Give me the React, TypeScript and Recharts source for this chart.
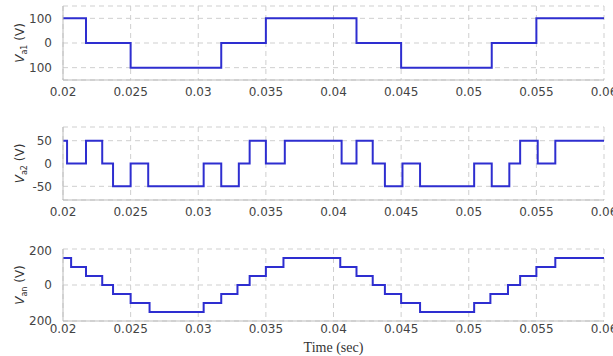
import { LineChart, Line, XAxis, YAxis, CartesianGrid } from 'recharts';

// step waveforms, values change at each time listed
const va1Times = [0.02, 0.0217, 0.025, 0.0317, 0.035, 0.0417, 0.045, 0.0517, 0.055, 0.06];
const va1Values = [100, 0, -100, 0, 100, 0, -100, 0, 100, 100];

const va2Times = [0.02, 0.0203, 0.0217, 0.0229, 0.0237, 0.025, 0.0263, 0.0304, 0.0317, 0.033, 0.0338, 0.035, 0.0364,
  0.0406, 0.0417, 0.0429, 0.0438, 0.0451, 0.0464, 0.0504, 0.0517, 0.053, 0.0538, 0.0551, 0.0564, 0.06];
const va2Values = [50, 0, 50, 0, -50, 0, -50, 0, -50, 0, 50, 0, 50, 0, 50, 0, -50, 0, -50, 0, -50, 0, 50, 0, 50, 50];

const vanTimes = [0.02, 0.0206, 0.0217, 0.0229, 0.0237, 0.025, 0.0264, 0.0304, 0.0317, 0.0329, 0.0338, 0.035, 0.0363,
  0.0405, 0.0417, 0.0429, 0.0438, 0.045, 0.0464, 0.0504, 0.0516, 0.0529, 0.0538, 0.055, 0.0564, 0.06];
const vanValues = [150, 100, 50, 0, -50, -100, -150, -100, -50, 0, 50, 100, 150, 100, 50, 0, -50, -100, -150, -100, -50, 0, 50, 100, 150, 150];

const timeTicks = [0.02, 0.025, 0.03, 0.035, 0.04, 0.045, 0.05, 0.055, 0.06];
const va1Ticks = [-100, 0, 100];
const va2Ticks = [-50, 0, 50];
const vanTicks = [-200, 0, 200];

const FONT = 'DejaVu Sans, sans-serif';
const BORDER = '#bbbbbb';
const LINE = '#2e2ed0';

type PanelProps = {
  times: number[];
  values: number[];
  domain: [number, number];
  ticks: number[];
  sub: string;
  top: number;
  height: number;
  plotHeight: number;
  absTicks?: boolean;
  xTickMargin: number;
  showTime?: boolean;
};

function Panel({ times, values, domain, ticks, sub, top, height, plotHeight, absTicks, xTickMargin, showTime }: PanelProps) {
  const data = times.map((t, i) => ({ t, v: values[i] }));
  const bottom = height - 6 - plotHeight;

  const yLabel = (props: any) => {
    const vb = props.viewBox || {};
    const cy = (vb.y ?? 0) + (vb.height ?? 0) / 2;
    return (
      <text
        x={0}
        y={0}
        transform={`translate(24, ${cy}) rotate(-90)`}
        textAnchor="middle"
        fontFamily={FONT}
        fontSize={12}
        fill="#333"
      >
        <tspan fontStyle="italic">V</tspan>
        <tspan fontSize={8} dy={3}>{sub}</tspan>
        <tspan dy={-3}> (V)</tspan>
      </text>
    );
  };

  return (
    <div style={{ position: 'absolute', left: 0, top, width: 613, height }}>
      <LineChart width={613} height={height} data={data} margin={{ top: 6, right: 9, left: 0, bottom: 0 }}>
        <CartesianGrid stroke="#cfcfcf" strokeDasharray="5 4" />
        <XAxis
          dataKey="t"
          type="number"
          domain={[0.02, 0.06]}
          ticks={timeTicks}
          tickFormatter={(v: number) => String(Number(v.toFixed(3)))}
          tick={{ fontFamily: FONT, fontSize: 12, fill: '#444' }}
          tickLine={false}
          tickMargin={xTickMargin}
          axisLine={{ stroke: BORDER }}
          height={bottom}
          interval={0}
          label={showTime ? { value: 'Time (sec)', position: 'insideBottom', offset: 4, fontFamily: 'Liberation Serif, serif', fontSize: 14, fill: '#333' } : undefined}
        />
        <XAxis xAxisId="top" orientation="top" type="number" dataKey="t" domain={[0.02, 0.06]} height={0} tick={false} tickLine={false} axisLine={{ stroke: BORDER }} />
        <YAxis
          type="number"
          domain={domain}
          ticks={ticks}
          allowDataOverflow
          tickFormatter={(v: number) => String(absTicks ? Math.abs(v) : v)}
          tick={{ fontFamily: FONT, fontSize: 12, fill: '#444' }}
          tickLine={false}
          tickMargin={5}
          axisLine={{ stroke: BORDER }}
          width={63}
          label={{ content: yLabel }}
        />
        <YAxis yAxisId="right" orientation="right" type="number" domain={domain} width={0} tick={false} tickLine={false} axisLine={{ stroke: BORDER }} />
        <Line type="stepAfter" dataKey="v" stroke={LINE} strokeWidth={2} dot={false} isAnimationActive={false} />
      </LineChart>
    </div>
  );
}

export default function App() {
  return (
    <div style={{ position: 'absolute', left: 0, top: 0, width: 613, height: 356, background: '#fff', overflow: 'hidden' }}>
      <Panel times={va1Times} values={va1Values} domain={[-150, 150]} ticks={va1Ticks} sub="a1" top={0} height={106} plotHeight={74} absTicks xTickMargin={1} />
      <Panel times={va2Times} values={va2Values} domain={[-80, 80]} ticks={va2Ticks} sub="a2" top={121} height={105} plotHeight={73} xTickMargin={1} />
      <Panel times={vanTimes} values={vanValues} domain={[-200, 200]} ticks={vanTicks} sub="an" top={243} height={113} plotHeight={72} absTicks xTickMargin={-3} showTime />
    </div>
  );
}
